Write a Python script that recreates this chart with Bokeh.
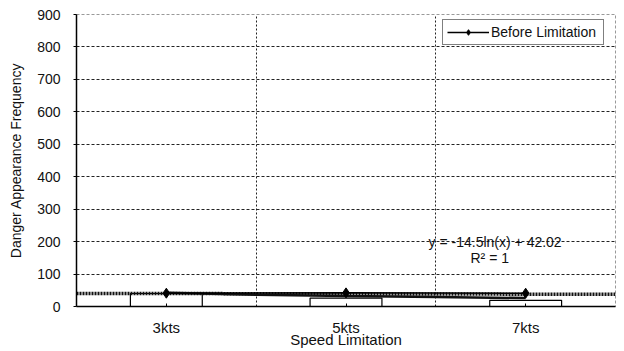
from bokeh.plotting import figure
from bokeh.models import Range1d, FixedTicker, Legend, LegendItem, Label
from bokeh.embed import file_html
from bokeh.resources import INLINE

# ---- data ----
categories = ["3kts", "5kts", "7kts"]
cat_pos = [1, 2, 3]
before_limitation = [41, 42, 41]
bar_values = [40, 26, 19]
band_pos = [0.5, 1, 2, 3, 3.5]
band_values = [40, 40, 39, 38, 38]
trend_pos = [1, 1.5, 2, 2.5, 3]
trend_values = [42, 36, 32, 29, 26]
y_ticks = [0, 100, 200, 300, 400, 500, 600, 700, 800, 900]
grid_ticks = [100, 200, 300, 400, 500, 600, 700, 800]
eq_text = "y = -14.5ln(x) + 42.02"
r2_text = "R\u00b2 = 1"

FONT = "Liberation Sans"

p = figure(width=622, height=351, output_backend="svg", toolbar_location=None,
           x_range=Range1d(0.5, len(categories) + 0.5), y_range=Range1d(0, 900),
           min_border_left=76, min_border_right=7, min_border_top=14, min_border_bottom=45)
p.background_fill_color = "white"
p.border_fill_color = "white"
p.outline_line_color = "#999999"
p.outline_line_dash = "3 2"
p.outline_line_width = 1

# axes
p.yaxis.ticker = FixedTicker(ticks=y_ticks)
p.xaxis.ticker = FixedTicker(ticks=cat_pos)
p.xaxis.major_label_overrides = {c: l for c, l in zip(cat_pos, categories)}
for ax in (p.xaxis[0], p.yaxis[0]):
    ax.axis_line_color = "black"
    ax.axis_line_width = 1.5
    ax.major_tick_line_color = "black"
    ax.minor_tick_line_color = None
    ax.major_label_text_font = FONT
    ax.major_label_text_color = "#111111"
    ax.axis_label_text_font = FONT
    ax.axis_label_text_font_style = "normal"
    ax.axis_label_text_color = "#111111"
p.yaxis.major_label_text_font_size = "14px"
p.yaxis.axis_label_text_font_size = "14px"
p.xaxis.major_label_text_font_size = "15px"
p.xaxis.axis_label_text_font_size = "15px"
p.yaxis.major_tick_in = 0
p.yaxis.major_tick_out = 3
p.yaxis.major_label_standoff = 13
p.yaxis.axis_label = "Danger Appearance Frequency"
p.yaxis.axis_label_standoff = 10
p.xaxis.major_tick_in = 3
p.xaxis.major_tick_out = 0
p.xaxis.major_label_standoff = 12
p.xaxis.axis_label = "Speed Limitation"
p.xaxis.axis_label_standoff = -8

# grids
p.ygrid.ticker = FixedTicker(ticks=grid_ticks)
p.ygrid.grid_line_color = "#222222"
p.ygrid.grid_line_dash = "3 2"
p.ygrid.grid_line_width = 1
p.xgrid.ticker = FixedTicker(ticks=[c + 0.5 for c in cat_pos[:-1]])
p.xgrid.grid_line_color = "#222222"
p.xgrid.grid_line_dash = "2 2"
p.xgrid.grid_line_width = 1

# bars (white with outline)
p.vbar(x=cat_pos, top=bar_values, bottom=0, width=0.4,
       fill_color="white", line_color="black", line_width=1.2)

# thick band and log trendline
p.line(band_pos, band_values, line_color="#111111", line_width=3.5, line_dash="2 1")
p.line(trend_pos, trend_values, line_color="#111111", line_width=2.5)

# data series
lr = p.line(cat_pos, before_limitation, line_color="black", line_width=1.5)
sr = p.scatter(cat_pos, before_limitation, marker="diamond", size=10,
               fill_color="black", line_color="black")

legend = Legend(items=[LegendItem(label="Before Limitation", renderers=[lr, sr])],
                location=(366, 261), margin=0, padding=4, spacing=0,
                glyph_width=42, glyph_height=14, label_standoff=2, label_width=108,
                label_text_font=FONT, label_text_font_size="14px",
                label_text_color="#111111",
                border_line_color="black", border_line_width=1.2,
                background_fill_color="white", background_fill_alpha=1)
p.add_layout(legend)

p.add_layout(Label(x=2.83, y=200, text=eq_text, text_align="center",
                   text_baseline="middle", text_font=FONT, text_font_size="14px",
                   text_color="#111111"))
p.add_layout(Label(x=2.80, y=150, text=r2_text, text_align="center",
                   text_baseline="middle", text_font=FONT, text_font_size="14px",
                   text_color="#111111"))

open("out.html", "w").write(file_html(p, INLINE))
